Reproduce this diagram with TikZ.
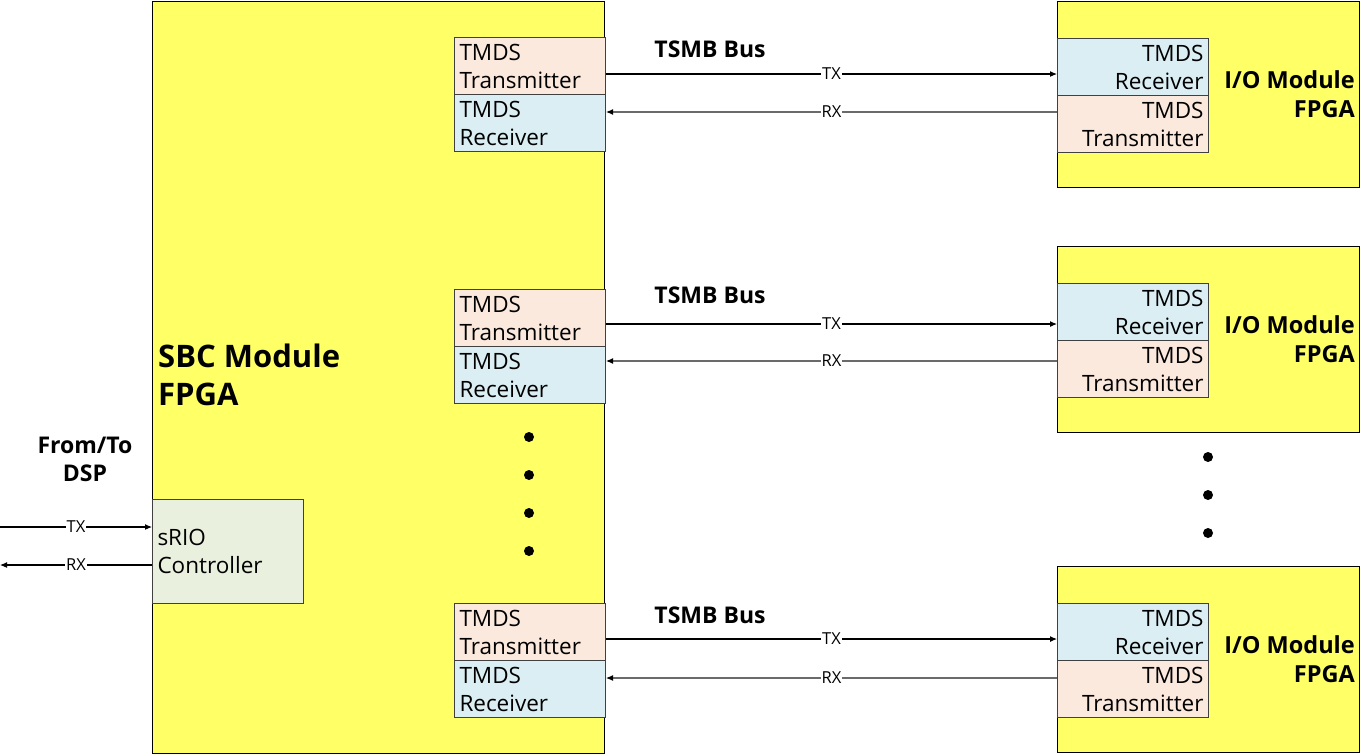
\documentclass[tikz,border=0pt]{standalone}
\usepackage{fontspec}
\setmainfont{Open Sans}
\usetikzlibrary{arrows.meta}
\definecolor{fpgayellow}{HTML}{FFFF66}
\definecolor{txfill}{HTML}{FCE9DD}
\definecolor{rxfill}{HTML}{DAEEF3}
\definecolor{sriofill}{HTML}{EAF0DE}
\definecolor{edgegray}{HTML}{404040}
\definecolor{rxline}{HTML}{6A6A6A}
\begin{document}
\begin{tikzpicture}[x=1pt,y=-1pt,
  fpga/.style={draw=black,fill=fpgayellow,line width=1pt,anchor=north west,inner sep=0pt},
  tmdsbox/.style={draw=edgegray,line width=1pt,anchor=north west,minimum width=151pt,minimum height=57pt,
     text width=141pt,inner xsep=5pt,inner ysep=0pt,font=\fontsize{22.5}{28}\selectfont},
  leftbox/.style={tmdsbox,align=left},
  rightbox/.style={tmdsbox,align=right},
  buslabel/.style={font=\bfseries\fontsize{23}{28}\selectfont,inner sep=0pt},
  iolabel/.style={font=\bfseries\fontsize{23.5}{29}\selectfont,inner sep=0pt,align=right,anchor=east},
  sig/.style={line width=1.1pt,-{Latex[length=7pt,width=6pt,color=black]}},
  txline/.style={sig,draw=black},
  rxline/.style={sig,draw=rxline},
  siglabel/.style={font=\fontsize{16.5}{18}\selectfont,fill=white,inner sep=1pt},
  dot/.style={fill=black}
]
\useasboundingbox (0,0) rectangle (1367,755);

% SBC module
\node[fpga,minimum width=452pt,minimum height=752pt] (sbc) at (152,1) {};
\node[font=\bfseries\fontsize{31}{38}\selectfont,align=left,anchor=west,inner sep=0pt] (sbclabel) at (158,375) {SBC Module\\FPGA};

% TMDS groups
\foreach \i/\ly/\my/\ty/\ry/\by in {1/37/1/74/112/49.5, 2/289/246/324/361/295, 3/603/566/639/678/615} {
  \node[leftbox,fill=txfill] (ltx\i) at (454,\ly) {TMDS\\Transmitter};
  \node[leftbox,fill=rxfill] (lrx\i) at (454,\ly+57) {TMDS\\Receiver};
  \node[fpga,minimum width=302pt,minimum height=186pt] (io\i) at (1057,\my) {};
  \node[rightbox,fill=rxfill] (rrx\i) at (1057,\my+37) {TMDS\\Receiver};
  \node[rightbox,fill=txfill] (rtx\i) at (1057,\my+94) {TMDS\\Transmitter};
  \node[iolabel] (iolab\i) at (1355,\my+93) {I/O Module\\FPGA};
  \node[buslabel] (bus\i) at (710,\by) {TSMB Bus};
  \coordinate (tyc\i) at (0,\ty);
  \coordinate (ryc\i) at (0,\ry);
  \draw[txline] (ltx\i.east |- tyc\i) -- node[siglabel] {TX} (rrx\i.west |- tyc\i);
  \draw[rxline] (rtx\i.west |- ryc\i) -- node[siglabel] {RX} (lrx\i.east |- ryc\i);
}

% dots
\foreach \y in {437,475,513,551} { \fill[dot] (529,\y) circle (5pt); }
\foreach \y in {457,495,533} { \fill[dot] (1208,\y) circle (5pt); }

% sRIO controller
\node[draw=edgegray,line width=1pt,fill=sriofill,anchor=north west,minimum width=151pt,minimum height=104pt,
  text width=141pt,inner xsep=5pt,align=left,font=\fontsize{22.5}{28}\selectfont] (srio) at (152,499) {sRIO\\Controller};
\node[font=\bfseries\fontsize{23}{28}\selectfont,align=center,inner sep=0pt] (dsp) at (85,459) {From/To\\DSP};
\coordinate (dsptx) at (0,527);
\coordinate (dsprx) at (0,565);
\draw[sig,draw=black] (dsptx) -- node[siglabel] {TX} (srio.west |- dsptx);
\draw[sig,draw=black] (srio.west |- dsprx) -- node[siglabel] {RX} (dsprx);
\end{tikzpicture}
\end{document}
